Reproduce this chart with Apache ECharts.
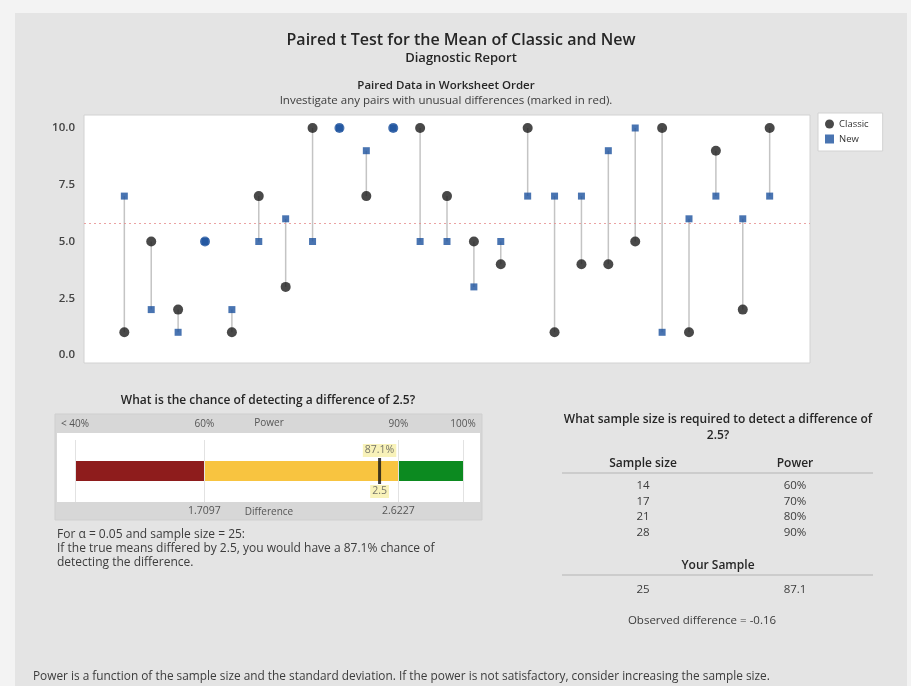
<!DOCTYPE html>
<html>
<head>
<meta charset="utf-8">
<script src="https://cdn.jsdelivr.net/npm/echarts@6/dist/echarts.min.js"></script>
<style>
  html, body { margin: 0; padding: 0; background: #f3f3f3; }
  #chart { width: 911px; height: 686px; }
</style>
</head>
<body>
<div id="chart"></div>
<script>
// Paired observations, in worksheet order
const pairIndex = [1, 2, 3, 4, 5, 6, 7, 8, 9, 10, 11, 12, 13, 14, 15, 16, 17, 18, 19, 20, 21, 22, 23, 24, 25];
const classic   = [1, 5, 2, 5, 1, 7, 3, 10, 10, 7, 10, 10, 7, 5, 4, 10, 1, 4, 4, 5, 10, 1, 9, 2, 10];
const newer     = [7, 2, 1, 5, 2, 5, 6, 5, 10, 9, 10, 5, 5, 3, 5, 7, 7, 7, 9, 10, 1, 6, 7, 6, 7];
const yTicks = [0, 2.5, 5, 7.5, 10];

// Power assessment for a difference of 2.5
const targetDiff = 2.5;
const bandEdges = [40, 60, 90, 100];
const powerTickValues = [40, 60, 90, 100];
const powerTickLabels = ['< 40%', '60%', '90%', '100%'];
const diffTickValues = [60, 90];
const diffTickLabels = ['1.7097', '2.6227'];
const yourPower = 87.1;
const alphaLevel = 0.05;

// Sample size table
const sampleSizes = [14, 17, 21, 28];
const powerTargets = [60, 70, 80, 90];
const yourSampleSize = 25;

const FONT = '"Open Sans", "Noto Sans", sans-serif';
const DARK = '#262626';
const BODY = '#3c3c3c';
const BLUE = '#1b519e';

const allValues = classic.concat(newer);
const grandMean = allValues.reduce((a, b) => a + b, 0) / allValues.length;
const meanDiff = classic.reduce((s, c, i) => s + (c - newer[i]), 0) / classic.length;

const chart = echarts.init(document.getElementById('chart'), null, { renderer: 'canvas' });

function txt(x, y, text, opt) {
  opt = opt || {};
  return {
    type: 'text', x: x, y: y, silent: true,
    style: {
      text: text,
      font: (opt.weight || 'normal') + ' ' + (opt.size || 12) + 'px ' + FONT,
      fill: opt.color || BODY,
      align: opt.align || 'left',
      verticalAlign: 'middle'
    }
  };
}

const bandColors = ['#8e1c1c', '#f8c440', '#0c8a20'];
const bandData = [];
for (let i = 0; i < bandEdges.length - 1; i++) {
  bandData.push({ value: [bandEdges[i], bandEdges[i + 1], 0], itemStyle: { color: bandColors[i] } });
}

// Table rows built from the arrays
const tableText = [];
sampleSizes.forEach((n, i) => {
  const y = 486 + i * 15.5;
  tableText.push(txt(643, y, String(n), { align: 'center', size: 11.5 }));
  tableText.push(txt(795, y, powerTargets[i] + '%', { align: 'center', size: 11.5 }));
});

const option = {
  animation: false,
  backgroundColor: '#f3f3f3',
  textStyle: { fontFamily: FONT },
  graphic: [
    { type: 'rect', silent: true, shape: { x: 15, y: 13, width: 892, height: 673 }, style: { fill: '#e4e4e4' } },
    // main plot frame
    { type: 'rect', silent: true, shape: { x: 84, y: 115, width: 726, height: 248 }, style: { fill: '#ffffff', stroke: '#d2d2d2', lineWidth: 1 } },
    // power gauge frame
    { type: 'rect', silent: true, shape: { x: 55, y: 414, width: 427, height: 106 }, style: { fill: '#d7d7d7', stroke: '#cfcfcf', lineWidth: 1 } },
    { type: 'rect', silent: true, shape: { x: 57, y: 433, width: 423, height: 69 }, style: { fill: '#ffffff' } },
    // titles
    txt(461, 40, 'Paired t Test for the Mean of Classic and New', { size: 16, weight: '600', color: DARK, align: 'center' }),
    txt(461, 58, 'Diagnostic Report', { size: 13, weight: '600', color: DARK, align: 'center' }),
    txt(446, 86, 'Paired Data in Worksheet Order', { size: 11.5, weight: '600', color: DARK, align: 'center' }),
    txt(446, 101, 'Investigate any pairs with unusual differences (marked in red).', { size: 11.5, color: BODY, align: 'center' }),
    // power section text
    txt(268, 401, 'What is the chance of detecting a difference of ' + targetDiff + '?', { size: 12, weight: '600', color: DARK, align: 'center' }),
    txt(57, 535, 'For \u03B1 = ' + alphaLevel.toFixed(2) + ' and sample size = ' + yourSampleSize + ':', { size: 12 }),
    txt(57, 549, 'If the true means differed by ' + targetDiff + ', you would have a ' + yourPower + '% chance of', { size: 12 }),
    txt(57, 563, 'detecting the difference.', { size: 12 }),
    // sample size table
    txt(718, 420, 'What sample size is required to detect a difference of', { size: 12, weight: '600', color: DARK, align: 'center' }),
    txt(718, 436, targetDiff + '?', { size: 12, weight: '600', color: DARK, align: 'center' }),
    txt(643, 464, 'Sample size', { size: 12, weight: '600', color: DARK, align: 'center' }),
    txt(795, 464, 'Power', { size: 12, weight: '600', color: DARK, align: 'center' }),
    { type: 'line', silent: true, shape: { x1: 562, y1: 473, x2: 873, y2: 473 }, style: { stroke: '#b4b4b4', lineWidth: 1 } },
    ...tableText,
    txt(718, 566, 'Your Sample', { size: 12, weight: '600', color: DARK, align: 'center' }),
    { type: 'line', silent: true, shape: { x1: 562, y1: 575, x2: 873, y2: 575 }, style: { stroke: '#b4b4b4', lineWidth: 1 } },
    txt(643, 590, String(yourSampleSize), { align: 'center', size: 11.5 }),
    txt(795, 590, String(yourPower), { align: 'center', size: 11.5 }),
    txt(702, 621, 'Observed difference = ' + meanDiff.toFixed(2), { size: 11.5, align: 'center' }),
    // footnote
    txt(33, 677, 'Power is a function of the sample size and the standard deviation. If the power is not satisfactory, consider increasing the sample size.', { size: 11.85 })
  ],
  legend: {
    orient: 'vertical',
    left: 818, top: 113,
    backgroundColor: '#ffffff',
    borderColor: '#d2d2d2', borderWidth: 1,
    padding: [6, 14, 7, 7],
    itemGap: 5,
    itemWidth: 9, itemHeight: 9,
    textStyle: { fontSize: 9.5, color: '#333', fontFamily: FONT },
    data: [
      { name: 'Classic', icon: 'circle', itemStyle: { color: '#1c1c1c' } },
      { name: 'New', icon: 'rect', itemStyle: { color: BLUE } }
    ]
  },
  grid: [
    { left: 84, right: 101, top: 128, height: 227 },
    { left: 75, width: 388, top: 440, height: 62 }
  ],
  xAxis: [
    { gridIndex: 0, type: 'value', min: -0.5, max: 26.5, show: false },
    {
      gridIndex: 1, type: 'value', min: 40, max: 100, position: 'top',
      name: 'Power', nameLocation: 'middle', nameGap: 17, nameMoveOverlap: false,
      nameTextStyle: { fontSize: 10, color: '#555', fontFamily: FONT, verticalAlign: 'middle' },
      axisLine: { show: false }, axisTick: { show: false }, splitLine: { show: false },
      axisLabel: {
        customValues: powerTickValues, margin: 11, fontSize: 10, color: '#555', fontFamily: FONT,
        showMinLabel: true, showMaxLabel: true,
        formatter: v => powerTickLabels[powerTickValues.indexOf(v)]
      }
    },
    {
      gridIndex: 1, type: 'value', min: 40, max: 100, position: 'bottom',
      name: 'Difference', nameLocation: 'middle', nameGap: 10, nameMoveOverlap: false,
      nameTextStyle: { fontSize: 10, color: '#555', fontFamily: FONT, verticalAlign: 'middle' },
      axisLine: { show: false }, axisTick: { show: false }, splitLine: { show: false },
      axisLabel: {
        customValues: diffTickValues, margin: 4, fontSize: 10.5, color: '#555', fontFamily: FONT,
        formatter: v => diffTickLabels[diffTickValues.indexOf(v)]
      }
    }
  ],
  yAxis: [
    {
      gridIndex: 0, type: 'value', min: 0, max: 10, interval: 2.5,
      axisLine: { show: false }, axisTick: { show: false }, splitLine: { show: false },
      axisLabel: { margin: 9, fontSize: 11.5, fontWeight: '600', color: '#444', fontFamily: FONT, formatter: v => v.toFixed(1) }
    },
    { gridIndex: 1, type: 'category', data: ['power'], show: false }
  ],
  series: [
    {
      // connectors between the two measurements of each pair
      type: 'custom', xAxisIndex: 0, yAxisIndex: 0, silent: true, z: 1,
      data: pairIndex.map((p, i) => [p, classic[i], newer[i]]),
      renderItem: (params, api) => {
        const a = api.coord([api.value(0), api.value(1)]);
        const b = api.coord([api.value(0), api.value(2)]);
        return { type: 'line', shape: { x1: a[0], y1: a[1], x2: b[0], y2: b[1] }, style: { stroke: '#c4c4c4', lineWidth: 1.5 } };
      }
    },
    {
      name: 'Classic', type: 'scatter', xAxisIndex: 0, yAxisIndex: 0, z: 3,
      symbol: 'circle', symbolSize: 10,
      data: pairIndex.map((p, i) => ({
        value: [p, classic[i]],
        itemStyle: { color: classic[i] === newer[i] ? BLUE : '#1c1c1c' }
      })),
      markLine: {
        silent: true, symbol: 'none', label: { show: false },
        lineStyle: { color: '#e68c8c', type: [2, 3], width: 1, opacity: 0.8 },
        data: [{ yAxis: grandMean }]
      }
    },
    {
      name: 'New', type: 'scatter', xAxisIndex: 0, yAxisIndex: 0, z: 4,
      symbol: 'rect', symbolSize: 7,
      itemStyle: { color: BLUE },
      data: pairIndex.map((p, i) => [p, newer[i]])
    },
    {
      // power bands
      type: 'custom', xAxisIndex: 1, yAxisIndex: 1, silent: true, z: 2,
      data: bandData,
      renderItem: (params, api) => {
        const s = api.coord([api.value(0), 0]);
        const e = api.coord([api.value(1), 0]);
        const h = 20;
        return { type: 'rect', shape: { x: s[0], y: s[1] - h / 2, width: e[0] - s[0], height: h }, style: { fill: api.visual('color') } };
      }
    },
    {
      // faint reference lines at the band edges
      type: 'scatter', xAxisIndex: 1, yAxisIndex: 1, silent: true, symbolSize: 0, data: [],
      markLine: {
        silent: true, symbol: 'none', label: { show: false },
        lineStyle: { color: '#e2e2e2', type: 'solid', width: 1 },
        data: bandEdges.map(v => ({ xAxis: v }))
      }
    },
    {
      type: 'scatter', xAxisIndex: 1, yAxisIndex: 1, silent: true, z: 5,
      symbol: 'rect', symbolSize: [3, 26], itemStyle: { color: '#111' },
      data: [[yourPower, 0]],
      label: {
        show: true, position: 'top', distance: 1, formatter: yourPower + '%',
        fontSize: 10.5, color: '#555', fontFamily: FONT,
        backgroundColor: '#f6efa8', padding: [1, 2]
      }
    },
    {
      type: 'scatter', xAxisIndex: 1, yAxisIndex: 1, silent: true, z: 5,
      symbol: 'rect', symbolSize: [3, 26], itemStyle: { color: 'rgba(0,0,0,0)' },
      data: [[yourPower, 0]],
      label: {
        show: true, position: 'bottom', distance: 1, formatter: String(targetDiff),
        fontSize: 10.5, color: '#555', fontFamily: FONT,
        backgroundColor: '#f6efa8', padding: [1, 2]
      }
    }
  ]
};

chart.setOption(option);
</script>
</body>
</html>
